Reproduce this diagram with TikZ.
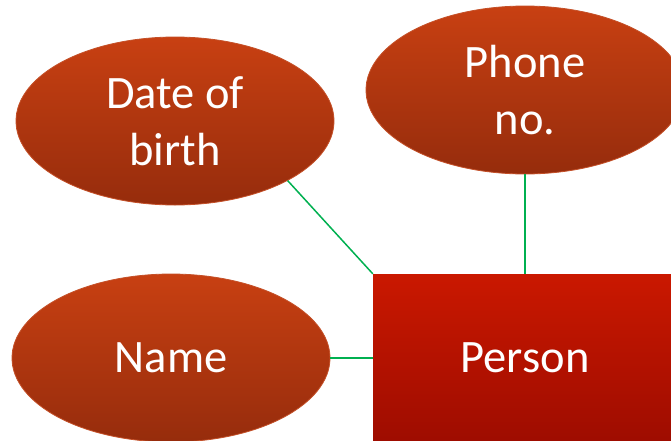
\documentclass[tikz,border=0pt]{standalone}
\usepackage{fontspec}
\setmainfont{Carlito}
\usetikzlibrary{shapes.geometric}
\definecolor{elltop}{RGB}{200,64,18}
\definecolor{ellbot}{RGB}{150,44,12}
\definecolor{ellborder}{RGB}{196,80,40}
\definecolor{recttop}{RGB}{202,24,0}
\definecolor{rectbot}{RGB}{158,12,0}
\definecolor{linkgreen}{RGB}{0,176,80}
\tikzset{
  attr/.style={ellipse, minimum width=318pt, minimum height=168pt, inner sep=0pt,
    top color=elltop, bottom color=ellbot, draw=ellborder, line width=0.8pt,
    text=white, font=\fontsize{46.5}{57}\selectfont, align=center},
  entity/.style={rectangle, minimum width=304pt, minimum height=168pt, inner sep=0pt,
    top color=recttop, bottom color=rectbot, draw=none,
    text=white, font=\fontsize{46.5}{57}\selectfont},
  link/.style={draw=linkgreen, line width=1.5pt}
}
\begin{document}
\begin{tikzpicture}[x=1pt,y=-1pt]
\useasboundingbox (0,0) rectangle (671,440);
\begin{scope}
\clip (0,0) rectangle (671,440);
\node[entity] (person) at (525,358) {Person};
\node[attr] (dob) at (175,121) {Date of\\birth};
\node[attr] (phone) at (525,90) {Phone\\no.};
\node[attr] (name) at (171,358) {Name};
\draw[link] (dob.south east) -- (person.north west);
\draw[link] (phone) -- (person.north);
\draw[link] (name) -- (person.west |- name);
\end{scope}
\end{tikzpicture}
\end{document}
